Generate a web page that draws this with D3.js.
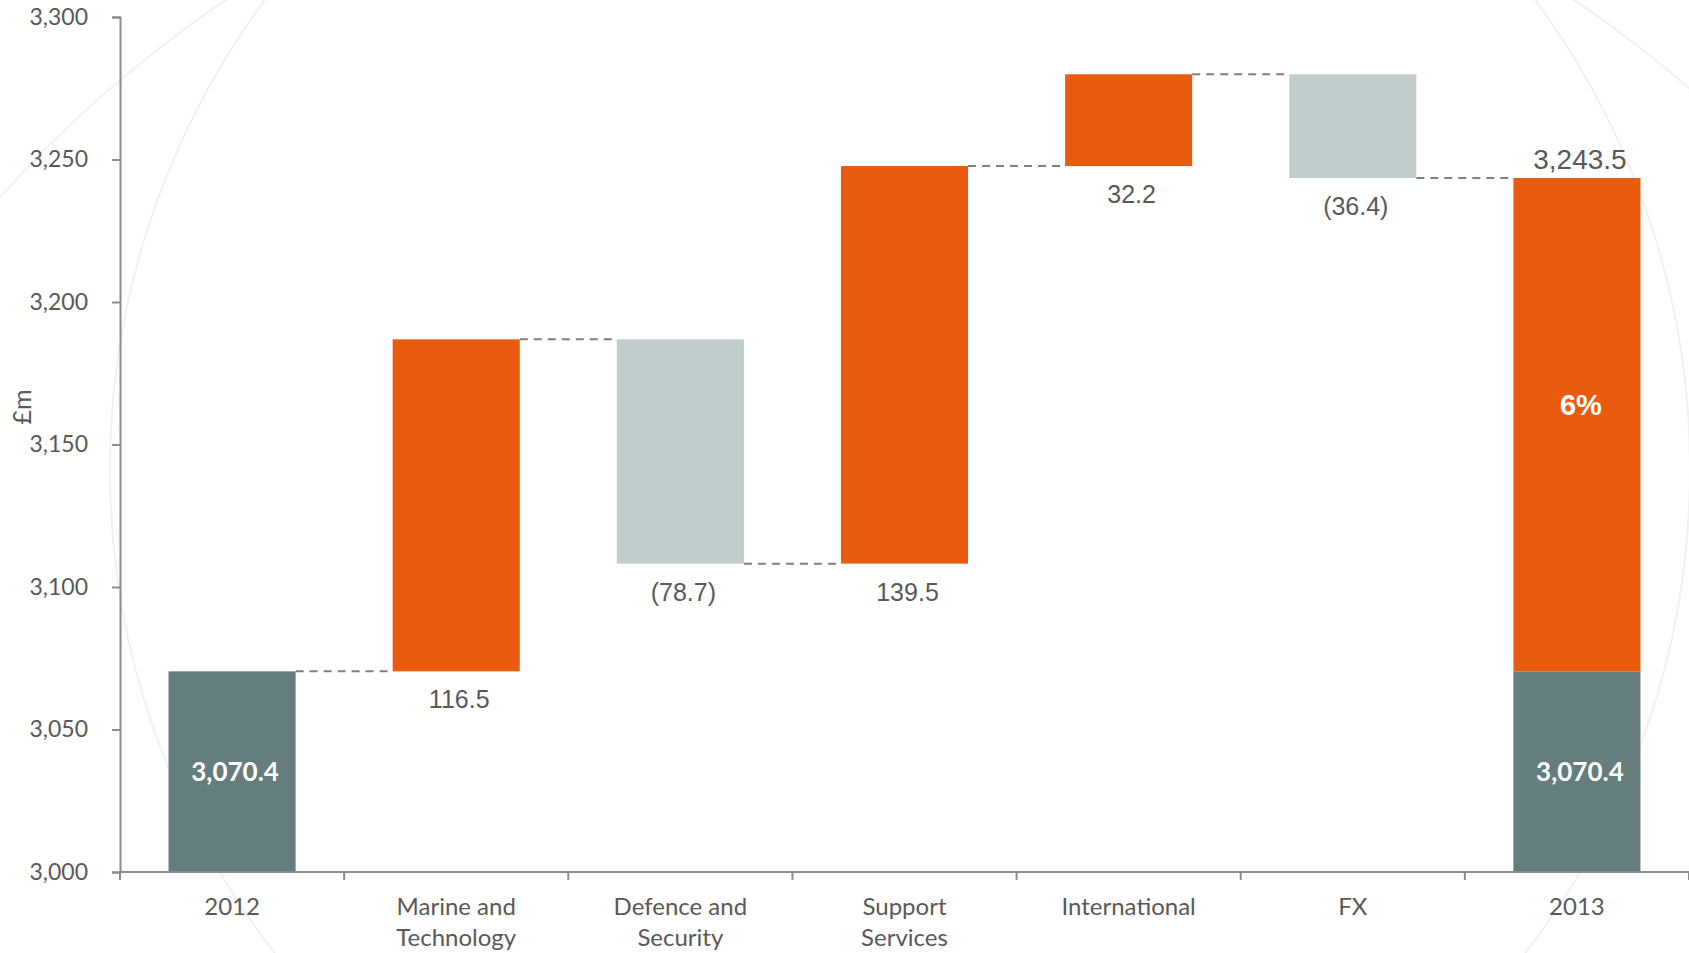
<!DOCTYPE html>
<html>
<head>
<meta charset="utf-8">
<style>
  body { margin: 0; background: #fff; }
  svg { display: block; }
</style>
<title>Revenue bridge 2012-2013</title>
</head>
<body>
<script src="https://cdn.jsdelivr.net/npm/d3@7"></script>
<script>

// data
var categories = ["2012", "Marine and Technology", "Defence and Security", "Support Services", "International", "FX", "2013"];
var catLines = [["2012"], ["Marine and", "Technology"], ["Defence and", "Security"], ["Support", "Services"], ["International"], ["FX"], ["2013"]];
var startValue = 3070.4;
var changes = [116.5, -78.7, 139.5, 32.2, -36.4];
var valueLabels = ["3,070.4", "116.5", "(78.7)", "139.5", "32.2", "(36.4)", "3,243.5"];
var endValue = 3243.5;
var growthLabel = "6%";
var yTicks = [3000, 3050, 3100, 3150, 3200, 3250, 3300];

var W = 1689, H = 953;
var orange = "#e95c0f", dark = "#657d7c", light = "#c1cdcc", grey = "#595959";

var svg = d3.select("body").append("svg")
    .attr("width", W)
    .attr("height", H);

// faint background circles (watermark)
svg.append("circle").attr("cx", 900).attr("cy", 470).attr("r", 790)
    .attr("fill", "none").attr("stroke", "#eef2f4").attr("stroke-width", 2);
svg.append("circle").attr("cx", 900).attr("cy", 1000).attr("r", 1206)
    .attr("fill", "none").attr("stroke", "#eef2f4").attr("stroke-width", 2);

var y = d3.scaleLinear()
    .domain([3000, 3300])
    .range([872, 17]);

var x = d3.scaleBand()
    .domain(categories)
    .range([120, W])
    .paddingInner(0.433)
    .paddingOuter(0.2165);

// build the steps
var steps = [];
steps.push({cat: categories[0], lo: 3000, hi: startValue, color: dark, level: startValue});
var run = startValue;
changes.forEach(function(c, i) {
  var a = run, b = run + c;
  steps.push({cat: categories[i + 1], lo: Math.min(a, b), hi: Math.max(a, b),
              color: c >= 0 ? orange : light, level: b});
  run = b;
});

// connectors
var bw = x.bandwidth();
for (var i = 0; i < steps.length; i++) {
  var next = i + 1 < steps.length ? categories[i + 1] : categories[6];
  svg.append("line")
      .attr("x1", x(steps[i].cat) + bw)
      .attr("x2", x(next))
      .attr("y1", y(steps[i].level))
      .attr("y2", y(steps[i].level))
      .attr("stroke", "#808080")
      .attr("stroke-width", 2)
      .attr("stroke-dasharray", "8,6");
}

svg.selectAll("rect.step")
    .data(steps)
    .enter().append("rect")
    .attr("class", "step")
    .attr("x", function(d) { return x(d.cat); })
    .attr("y", function(d) { return y(d.hi); })
    .attr("width", bw)
    .attr("height", function(d) { return y(d.lo) - y(d.hi); })
    .attr("fill", function(d) { return d.color; });

// 2013 stacked bar
svg.append("rect")
    .attr("x", x("2013")).attr("width", bw)
    .attr("y", y(startValue)).attr("height", y(3000) - y(startValue))
    .attr("fill", dark);
svg.append("rect")
    .attr("x", x("2013")).attr("width", bw)
    .attr("y", y(endValue)).attr("height", y(startValue) - y(endValue))
    .attr("fill", orange);

// in-bar labels
["2012", "2013"].forEach(function(c) {
  svg.append("text")
      .attr("x", x(c) + bw / 2 + 3)
      .attr("y", y(3035) + 9)
      .attr("text-anchor", "middle")
      .style("font-family", "Lato, sans-serif")
      .style("font-weight", "bold")
      .style("font-size", "26px")
      .attr("fill", "#fff")
      .text(valueLabels[0]);
});
svg.append("text")
    .attr("x", x("2013") + bw / 2 + 4)
    .attr("y", y(3164) + 10)
    .attr("text-anchor", "middle")
    .style("font-family", "'Liberation Sans', Arial, sans-serif")
    .style("font-weight", "bold")
    .style("font-size", "29px")
    .attr("fill", "#fff")
    .text(growthLabel);

// change labels below the bars
steps.slice(1).forEach(function(d, i) {
  svg.append("text")
      .attr("x", x(d.cat) + bw / 2 + 3)
      .attr("y", y(d.lo) + 37)
      .attr("text-anchor", "middle")
      .style("font-family", "'Liberation Sans', Arial, sans-serif")
      .style("font-size", "25px")
      .attr("fill", grey)
      .text(valueLabels[i + 1]);
});
svg.append("text")
    .attr("x", x("2013") + bw / 2 + 3)
    .attr("y", y(endValue) - 9)
    .attr("text-anchor", "middle")
    .style("font-family", "'Liberation Sans', Arial, sans-serif")
    .style("font-size", "28px")
    .attr("fill", grey)
    .text(valueLabels[6]);

// y axis
var yAxis = d3.axisLeft(y)
    .tickValues(yTicks)
    .tickSize(8)
    .tickPadding(24)
    .tickFormat(d3.format(","));

var gy = svg.append("g")
    .attr("transform", "translate(120,0)")
    .call(yAxis);
gy.select(".domain").attr("stroke", "#8c8c8c").attr("stroke-width", 2);
gy.selectAll(".tick line").attr("stroke", "#8c8c8c").attr("stroke-width", 2);
gy.selectAll(".tick text")
    .style("font-family", "Lato, sans-serif")
    .style("font-size", "23px")
    .attr("fill", grey);

// x axis
svg.append("line")
    .attr("x1", 120).attr("x2", W)
    .attr("y1", y(3000)).attr("y2", y(3000))
    .attr("stroke", "#8c8c8c").attr("stroke-width", 2);

var bounds = d3.range(categories.length + 1).map(function(i) { return x.range()[0] + i * x.step(); });
svg.selectAll("line.xtick")
    .data(bounds)
    .enter().append("line")
    .attr("class", "xtick")
    .attr("x1", function(d) { return d; })
    .attr("x2", function(d) { return d; })
    .attr("y1", y(3000))
    .attr("y2", y(3000) + 8)
    .attr("stroke", "#8c8c8c").attr("stroke-width", 2);

var xl = svg.selectAll("text.xlab")
    .data(categories)
    .enter().append("text")
    .attr("class", "xlab")
    .attr("text-anchor", "middle")
    .style("font-family", "Lato, sans-serif")
    .style("font-size", "24px")
    .attr("fill", grey);
xl.each(function(c, i) {
  d3.select(this).selectAll("tspan")
      .data(catLines[i])
      .enter().append("tspan")
      .attr("x", x(c) + bw / 2)
      .attr("y", function(t, j) { return 915 + j * 31; })
      .text(function(t) { return t; });
});

// y axis title
svg.append("text")
    .attr("transform", "translate(31,407) rotate(-90)")
    .attr("text-anchor", "middle")
    .style("font-family", "Lato, sans-serif")
    .style("font-size", "25px")
    .attr("fill", grey)
    .text("£m");

</script>
</body>
</html>
